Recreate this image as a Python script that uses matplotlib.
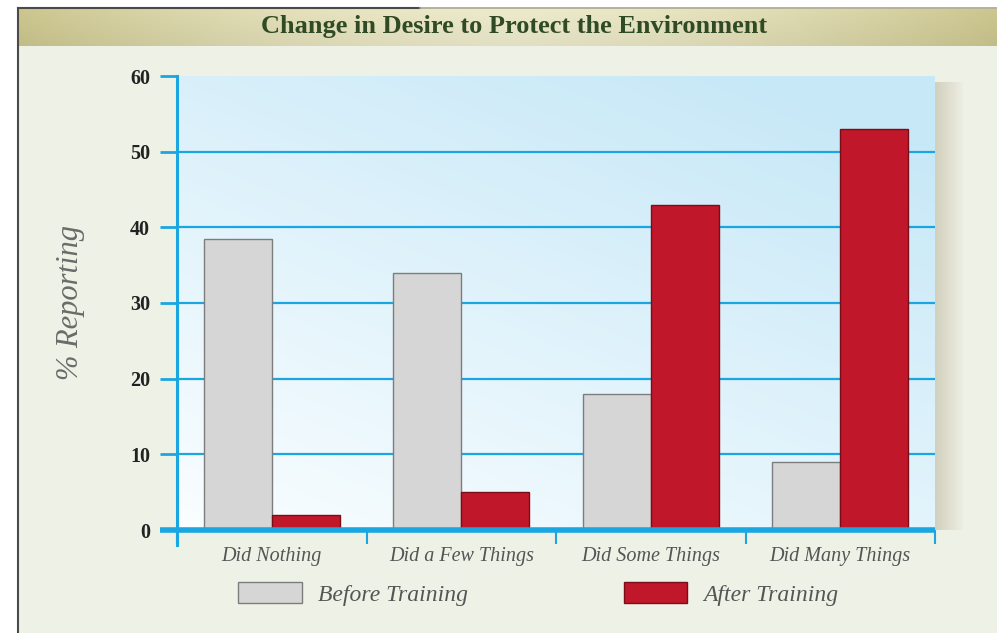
import numpy as np
import matplotlib.pyplot as plt
from matplotlib.patches import Rectangle
from matplotlib.ticker import FixedLocator

categories = ["Did Nothing", "Did a Few Things", "Did Some Things", "Did Many Things"]
before = [38.5, 34, 18, 9]
after = [2, 5, 43, 53]
yticks = [0, 10, 20, 30, 40, 50, 60]

BLUE = "#1aa6e0"
SERIF = ["Liberation Serif", "DejaVu Serif"]

fig = plt.figure(figsize=(9.97, 6.33), dpi=100)
fig.patch.set_facecolor("white")
W, H = 997, 633

def fx(px):
    return px / W

def fy(py):
    return 1 - py / H

# page background with dark border on left/top
fig.patches.append(Rectangle((fx(18), 0), 1 - fx(18), fy(8), transform=fig.transFigure,
                             facecolor="#eef1e6", edgecolor="none", zorder=-10))
fig.add_artist(plt.Line2D([fx(18), fx(18)], [0, fy(8)], color="#4a4a4a", lw=1.5))
fig.add_artist(plt.Line2D([fx(18), fx(420)], [fy(8), fy(8)], color="#4a4a4a", lw=1.5))
fig.add_artist(plt.Line2D([fx(420), 1], [fy(8), fy(8)], color="#a9a68a", lw=1.2))

# title band
band = fig.add_axes([fx(19), fy(46), 1 - fx(19), fy(9) - fy(46)])
t = np.linspace(-1, 1, 300)
v = np.linspace(0, 1, 30)[:, None]
light = np.array([0.93, 0.92, 0.80])
dark = np.array([0.80, 0.78, 0.56])
mix = (np.abs(t) ** 1.5)[None, :, None] * np.ones((30, 1, 1))
grad = light * (1 - mix) + dark * mix
grad = grad * (1 - 0.05 * v[:, :, None])
band.imshow(grad, aspect="auto", extent=(0, 1, 0, 1))
band.axis("off")
fig.text(fx(514), fy(27), "Change in Desire to Protect the Environment", ha="center", va="center",
         fontsize=19, fontweight="bold", color="#2f4a24", family=SERIF)

# soft shadow right of the plot panel
for i in range(14):
    fig.patches.append(Rectangle((fx(935), fy(530)), fx(2 * (i + 1)), fy(82) - fy(530),
                                 transform=fig.transFigure, facecolor="#9a9070", alpha=0.022,
                                 edgecolor="none", zorder=-5))

ax = fig.add_axes([fx(177), fy(530), fx(935) - fx(177), fy(76) - fy(530)])
ax.set_xlim(-0.5, 3.5)
ax.set_ylim(0, 60)

# panel gradient
gx = np.linspace(0, 1, 200)[None, :]
gy = np.linspace(0, 1, 200)[:, None]
s = np.clip(0.65 * gy + 0.45 * gx, 0, 1)
c0 = np.array([0.98, 0.995, 1.0])
c1 = np.array([0.78, 0.91, 0.97])
panel = c0 * (1 - s[..., None]) + c1 * s[..., None]
ax.imshow(panel, aspect="auto", extent=(-0.5, 3.5, 0, 60), origin="lower", zorder=-1)

x = np.arange(len(categories))
w = 0.36
ax.bar(x - w / 2, before, w, color="#d6d6d6", edgecolor="#7d7d7d", linewidth=1, label="Before Training", zorder=2)
ax.bar(x + w / 2, after, w, color="#c1172b", edgecolor="#7a0d18", linewidth=1, label="After Training", zorder=2)

for sp in ax.spines.values():
    sp.set_visible(False)

ax.set_yticks(yticks)
ax.set_yticklabels([str(v) for v in yticks], fontsize=14.5, fontweight="bold", family=SERIF, color="#222222")
ax.tick_params(axis="y", length=12.5, width=2, color=BLUE, pad=7)
ax.set_axisbelow(True)
ax.grid(axis="y", color=BLUE, linewidth=1.6)
ax.yaxis.get_gridlines()[-1].set_visible(False)
ax.yaxis.get_gridlines()[0].set_visible(False)

ax.set_xticks(x)
ax.set_xticklabels(categories, fontsize=14.5, fontstyle="italic", family=SERIF, color="#555555")
ax.xaxis.set_minor_locator(FixedLocator(np.arange(-0.5, 4, 1)))
ax.tick_params(axis="x", which="major", length=0, pad=12)
ax.tick_params(axis="x", which="minor", length=10, width=1.5, color=BLUE)

# axis lines
ax.plot([-0.5, -0.5], [-2.0, 60], color=BLUE, lw=2.2, clip_on=False, zorder=3)
ax.plot([-0.59, 3.5], [0, 0], color=BLUE, lw=4, clip_on=False, zorder=3, solid_capstyle="butt")

ax.set_ylabel("% Reporting", fontsize=22, fontstyle="italic", family=SERIF, color="#6a6a6a", labelpad=32)

ax.legend(loc="center left", bbox_to_anchor=(fx(238), fy(594)), bbox_transform=fig.transFigure,
          ncol=2, frameon=False, borderpad=0, borderaxespad=0, handlelength=2.7, handleheight=1.0,
          handletextpad=0.68, columnspacing=6.6,
          prop={"family": SERIF, "style": "italic", "size": 17}, labelcolor="#555555")

fig.savefig("out.png", dpi=100)
